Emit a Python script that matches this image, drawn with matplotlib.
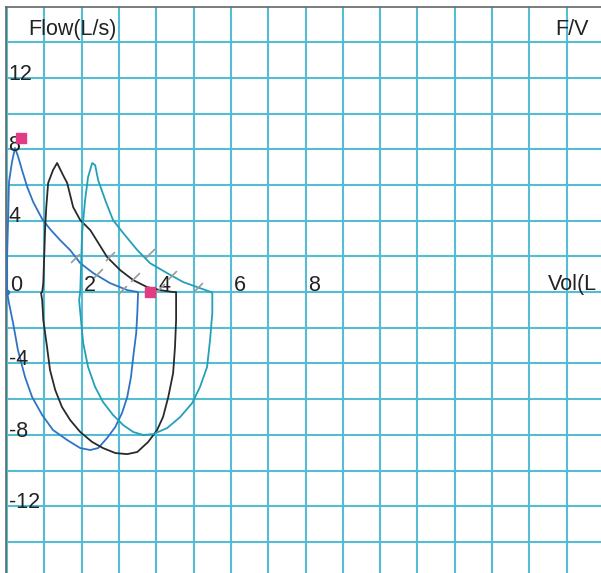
import numpy as np
import matplotlib.pyplot as plt

plt.rcParams['font.family'] = ['Liberation Sans', 'DejaVu Sans']

# volume (L) / flow (L/s) traces for the three trials
blue_vol = [0, 0, 0.03, 0.05, 0.13, 0.21, 0.29, 0.40, 0.54, 0.70, 0.94, 1.15, 1.42,
            1.69, 1.96, 2.31, 2.76, 3.22, 3.51,
            3.51, 3.49, 3.46, 3.38, 3.32, 3.22, 3.08, 2.90, 2.68, 2.44, 2.23, 1.96, 1.61, 1.23,
            0.94, 0.67, 0.48, 0.29, 0.16, 0.05, 0]
blue_flow = [0, 2.07, 4.37, 6.16, 7.28, 8.07, 7.62, 6.83, 5.88, 5.04, 4.09, 3.53, 2.91,
             2.35, 1.62, 1.06, 0.50, 0.11, 0,
             -0.06, -1.18, -2.30, -3.64, -4.76, -5.88, -6.78, -7.56, -8.18, -8.74, -8.85, -8.74,
             -8.29, -7.73, -6.89, -5.88, -4.76, -3.25, -1.74, -0.62, 0]

black_vol = [0.94, 0.97, 1.02, 1.05, 1.10, 1.23, 1.34, 1.50, 1.61, 1.77, 1.96, 2.23, 2.68, 3.03,
             3.38, 3.75, 4.10, 4.45, 4.53,
             4.53, 4.53, 4.50, 4.45, 4.32, 4.18, 4.02, 3.78, 3.49, 3.22, 2.90, 2.57, 2.28, 1.96,
             1.69, 1.47, 1.29, 1.15, 1.07, 0.97, 0.94, 0.91]
black_flow = [0, 0.50, 3.64, 4.76, 6.11, 6.83, 7.23, 6.55, 6.11, 4.76, 4.03, 3.47, 1.96, 1.23,
              0.67, 0.28, 0.11, 0, 0,
              -0.06, -1.57, -3.08, -4.54, -5.88, -7.00, -7.73, -8.40, -8.96, -9.08, -9.02, -8.74,
              -8.40, -7.84, -7.17, -6.44, -5.49, -4.37, -3.08, -1.57, -0.45, -0.06]

teal_vol = [1.96, 2.01, 2.09, 2.17, 2.28, 2.36, 2.44, 2.63, 2.84, 3.11, 3.49, 3.83, 4.29, 4.72,
            5.17, 5.47,
            5.50, 5.50, 5.44, 5.36, 5.17, 4.96, 4.64, 4.29, 3.91, 3.65, 3.38, 3.11, 2.84, 2.57,
            2.36, 2.17, 2.04, 1.98, 1.93, 1.96]
teal_flow = [0, 3.31, 5.15, 6.44, 7.23, 7.11, 6.27, 5.15, 4.03, 3.31, 2.35, 1.62, 1.06, 0.56,
             0.22, 0,
             -0.06, -1.18, -2.69, -4.20, -5.32, -6.22, -7.00, -7.62, -7.96, -8.01, -7.84, -7.45,
             -6.89, -6.16, -5.32, -4.20, -2.86, -1.57, -0.45, 0]

# small gray time marks on the expiratory curves
mark_vol = [1.82, 2.44, 3.08, 2.76, 3.43, 4.10, 3.83, 4.42, 5.12]
mark_flow = [1.90, 1.06, 0.11, 2.02, 0.84, 0.22, 2.18, 0.95, 0.28]

# pink markers (PEF and FVC)
pink_vol = [0.375, 3.83]
pink_flow = [8.63, 0]

x_ticks = [0, 2, 4, 6, 8]
y_ticks = [12, 8, 4, -4, -8, -12]

fig = plt.figure(figsize=(6.01, 5.73), dpi=100)
ax = fig.add_axes([6 / 601, 0, 595 / 601, 566 / 573])
ax.set_xlim(-0.03, 15.92)
ax.set_ylim(-15.74, 15.97)

grid_c = '#55bcd4'
for v in np.arange(0, 16):
    ax.axvline(v, color=grid_c, lw=1.5, zorder=1)
for f in np.arange(-14, 16, 2):
    ax.axhline(f, color=grid_c, lw=1.5, zorder=1)

ax.set_xticks([])
ax.set_yticks([])
for s in ['right', 'bottom']:
    ax.spines[s].set_visible(False)
for s in ['left', 'top']:
    ax.spines[s].set_color('#666666')
    ax.spines[s].set_linewidth(1.2)

ax.plot(blue_vol, blue_flow, color='#2f74c4', lw=1.3, zorder=3)
ax.plot(black_vol, black_flow, color='#2a2a2a', lw=1.3, zorder=3)
ax.plot(teal_vol, teal_flow, color='#23a0b8', lw=1.3, zorder=3)
ax.plot(mark_vol, mark_flow, ls='none', marker=(2, 0, -45), markersize=9,
        markeredgecolor='#9a9a9a', markeredgewidth=1.2, zorder=4)
ax.plot([0], [0], 'o', color='#2f74c4', markersize=3, zorder=4)
ax.plot(pink_vol, pink_flow, 's', color='#e23c85', markersize=7.5, zorder=5)

fs = 15.5
for v in x_ticks:
    ax.text(v + 0.07, 0.05, str(v), fontsize=fs, color='#222222', ha='left', va='baseline')
for f in y_ticks:
    ax.text(0.04, f - 0.1, str(f), fontsize=fs, color='#222222', ha='left', va='baseline')

ax.text(0.56, 14.7, 'Flow(L/s)', fontsize=fs, color='#222222', ha='left', va='center')
ax.text(14.69, 14.7, 'F/V', fontsize=fs, color='#222222', ha='left', va='center')
ax.text(14.5, 0.4, 'Vol(L', fontsize=fs, color='#222222', ha='left', va='center')

fig.savefig('out.png', dpi=100)
